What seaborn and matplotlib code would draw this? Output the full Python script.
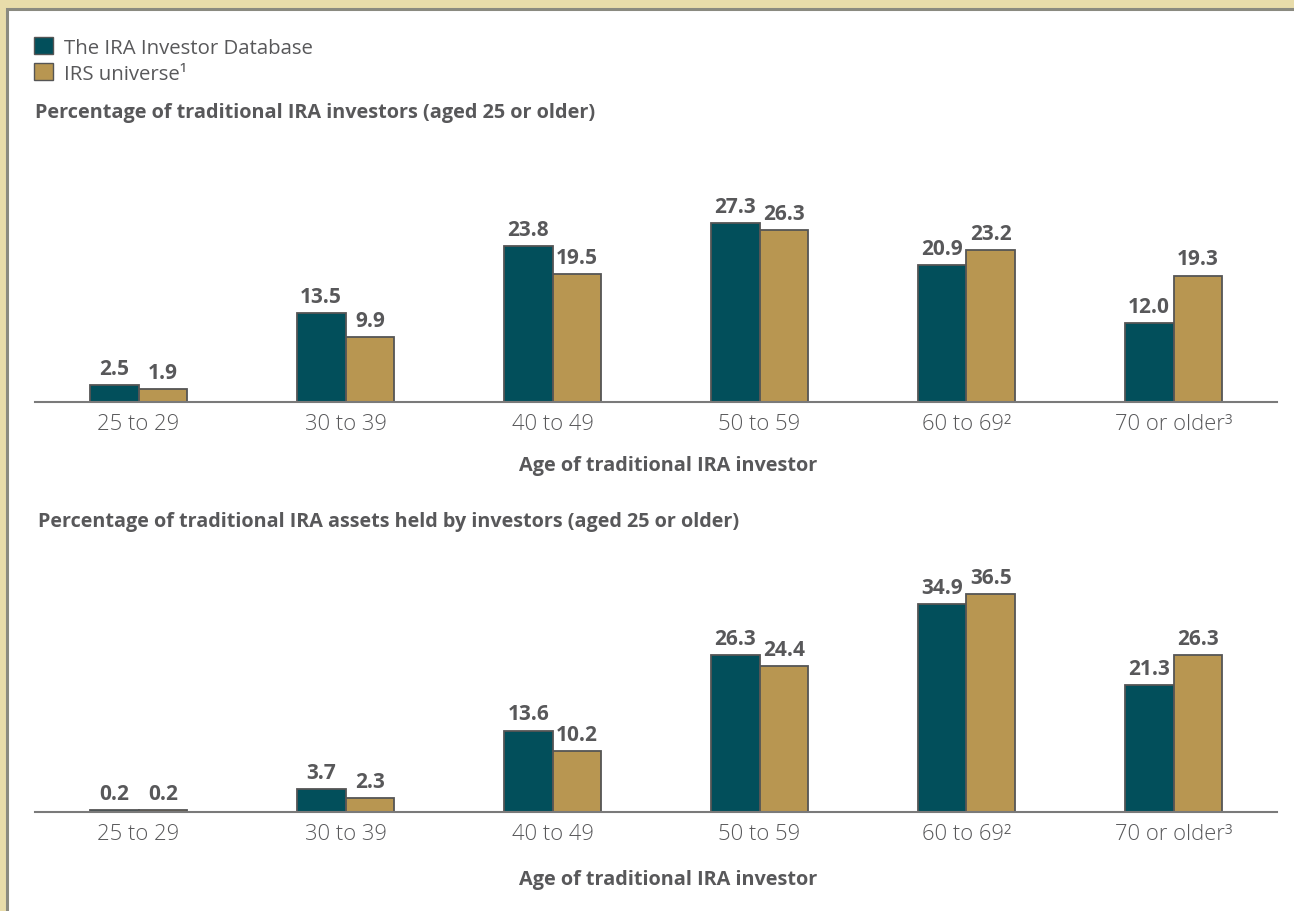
import matplotlib
matplotlib.use("Agg")
import matplotlib.pyplot as plt
from matplotlib.patches import Rectangle, Patch
import pandas as pd
import seaborn as sns

# Age groups and the two sources being compared
age_groups = ["25 to 29", "30 to 39", "40 to 49", "50 to 59", "60 to 69²", "70 or older³"]
sources = ["The IRA Investor Database", "IRS universe¹"]

# Share of traditional IRA investors (percent)
investors_db = [2.5, 13.5, 23.8, 27.3, 20.9, 12.0]
investors_irs = [1.9, 9.9, 19.5, 26.3, 23.2, 19.3]

# Share of traditional IRA assets (percent)
assets_db = [0.2, 3.7, 13.6, 26.3, 34.9, 21.3]
assets_irs = [0.2, 2.3, 10.2, 24.4, 36.5, 26.3]

title_investors = "Percentage of traditional IRA investors (aged 25 or older)"
title_assets = "Percentage of traditional IRA assets held by investors (aged 25 or older)"
xlabel_text = "Age of traditional IRA investor"

TEAL = "#024F5B"
TAN = "#B89651"
EDGE = "#555555"
TEXT = "#58585A"
BEIGE = "#E8DCAA"

sns.set_theme(style="white")
plt.rcParams["font.family"] = ["Open Sans", "DejaVu Sans"]

W, H = 1294, 912
fig = plt.figure(figsize=(W / 100, H / 100), dpi=100)
fig.patch.set_facecolor(BEIGE)


def fx(x):
    return x / W


def fy(y):
    return 1 - y / H


# White content panel with a thin grey rule along top and left
panel = Rectangle((fx(7), -0.05), 1.1, fy(10) + 0.05, transform=fig.transFigure,
                  facecolor="white", edgecolor="#8A8A80", linewidth=2.2, zorder=-5)
fig.patches.append(panel)


def long_frame(a, b):
    return pd.DataFrame({
        "age": age_groups * 2,
        "source": [sources[0]] * len(age_groups) + [sources[1]] * len(age_groups),
        "value": list(a) + list(b),
    })


def draw_panel(ax, a, b, ymax):
    df = long_frame(a, b)
    sns.barplot(data=df, x="age", y="value", hue="source", order=age_groups,
                hue_order=sources, palette=[TEAL, TAN], width=0.47,
                edgecolor=EDGE, linewidth=1.3, saturation=1, legend=False, ax=ax)
    ax.set_xlim(-0.5, len(age_groups) - 0.5)
    ax.set_ylim(0, ymax)
    for cont in ax.containers:
        ax.bar_label(cont, fmt="%.1f", padding=4.5, fontsize=15,
                     fontweight="bold", color=TEXT)
    ax.set_xlabel("")
    ax.set_ylabel("")
    ax.set_yticks([])
    for s in ["top", "right", "left"]:
        ax.spines[s].set_visible(False)
    ax.spines["bottom"].set_color("#7A7A7A")
    ax.spines["bottom"].set_linewidth(1.5)
    ax.tick_params(axis="x", length=0, pad=8, labelsize=15.8, labelcolor=TEXT)
    for lbl in ax.get_xticklabels():
        lbl.set_fontweight("light")
    ax.set_facecolor("none")


left, right = 35, 1277
# top chart: baseline y=402, ylim 0..40 at 6.52 px per unit
ax1 = fig.add_axes([fx(left), fy(402.5), (right - left) / W, 261 / H])
draw_panel(ax1, investors_db, investors_irs, 40)
# bottom chart: baseline y=812, 5.95 px per unit
ax2 = fig.add_axes([fx(left), fy(812.5), (right - left) / W, 238 / H])
draw_panel(ax2, assets_db, assets_irs, 40)

# Legend
handles = [Patch(facecolor=TEAL, edgecolor=EDGE, linewidth=1),
           Patch(facecolor=TAN, edgecolor=EDGE, linewidth=1)]
fig.legend(handles, sources, loc="upper left", bbox_to_anchor=(fx(34), fy(38)),
           frameon=False, fontsize=14.7, handlelength=0.93, handleheight=0.93,
           handletextpad=0.55, labelspacing=0.26, borderpad=0, borderaxespad=0,
           labelcolor=TEXT)

# Panel titles and axis captions
fig.text(fx(35), fy(113), title_investors, fontsize=14.3, fontweight="bold",
         color=TEXT, va="center", ha="left")
fig.text(fx(38), fy(522), title_assets, fontsize=14.25, fontweight="bold",
         color=TEXT, va="center", ha="left")
fig.text(fx(668), fy(466), xlabel_text, fontsize=14.3, fontweight="bold",
         color=TEXT, va="center", ha="center")
fig.text(fx(668), fy(880), xlabel_text, fontsize=14.3, fontweight="bold",
         color=TEXT, va="center", ha="center")

fig.savefig("out.png", dpi=100, facecolor=fig.get_facecolor())
